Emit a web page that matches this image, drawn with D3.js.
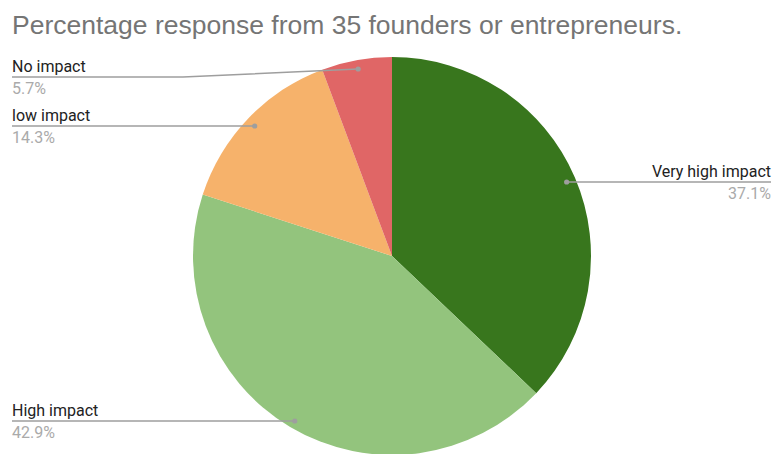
<!DOCTYPE html>
<html><head><meta charset="utf-8">
<script src="https://cdn.jsdelivr.net/npm/d3@7"></script>
<style>body{margin:0;background:#fff;}svg{display:block;}</style>
</head><body>
<svg id="c" width="774" height="454"></svg>
<script>
const categories = ["Very high impact", "High impact", "low impact", "No impact"];
const values = [37.1, 42.9, 14.3, 5.7];
const colors = ["#38761d", "#93c47d", "#f6b26b", "#e06666"];
const title = "Percentage response from 35 founders or entrepreneurs.";

const svg = d3.select("#c");
const cx = 392, cy = 256, r = 199;

svg.append("text").attr("x", 12).attr("y", 34)
  .attr("font-family", "Liberation Sans, Arial, sans-serif").attr("font-size", 26.5)
  .attr("fill", "#757575").text(title);

const data = categories.map((c, i) => ({name: c, value: values[i], color: colors[i]}));
const pie = d3.pie().sort(null).value(d => d.value);
const arcs = pie(data);
const arc = d3.arc().innerRadius(0).outerRadius(r);
const dotArc = d3.arc().innerRadius(r * 0.955).outerRadius(r * 0.955);

const g = svg.append("g").attr("transform", `translate(${cx},${cy})`);
g.selectAll("path").data(arcs).join("path")
  .attr("d", arc).attr("fill", d => d.data.color);

// label layout: side and label line y
const layout = {
  "Very high impact": {side: "right", y: 182},
  "High impact": {side: "left", y: 421},
  "low impact": {side: "left", y: 126},
  "No impact": {side: "left", y: 77, bend: 183}
};

const lg = svg.append("g");
arcs.forEach(a => {
  const L = layout[a.data.name];
  const [dx, dy] = dotArc.centroid(a);
  const px = cx + dx, py = cy + dy;
  const x0 = L.side === "left" ? 12 : 771;
  const pts = [[x0, L.y]];
  if (L.bend) pts.push([L.bend, L.y]);
  pts.push([px, L.bend ? py : L.y]);
  lg.append("path").attr("d", d3.line()(pts)).attr("fill", "none")
    .attr("stroke", "#9e9e9e").attr("stroke-width", 1.5);
  lg.append("circle").attr("cx", px).attr("cy", L.bend ? py : L.y).attr("r", 2.6).attr("fill", "#9e9e9e");
  const anchor = L.side === "left" ? "start" : "end";
  lg.append("text").attr("x", x0).attr("y", L.y - 5).attr("text-anchor", anchor)
    .attr("font-family", "Roboto, sans-serif").attr("font-size", 16).attr("fill", "#222")
    .text(a.data.name);
  lg.append("text").attr("x", x0).attr("y", L.y + 17).attr("text-anchor", anchor)
    .attr("font-family", "Roboto, sans-serif").attr("font-size", 16).attr("fill", "#aaaaaa")
    .text(a.data.value.toFixed(1) + "%");
});
</script>
</body></html>
